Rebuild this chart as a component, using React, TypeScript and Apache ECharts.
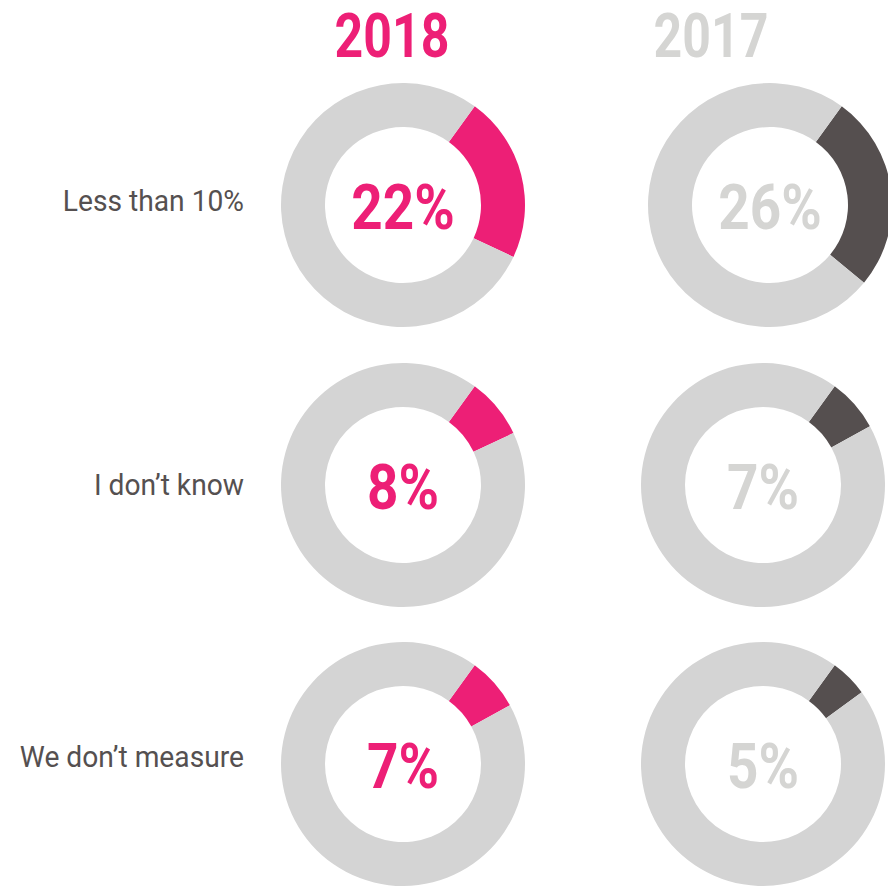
import React, { useEffect, useRef } from "react";
import * as echarts from "echarts";

// Survey answers, one row per category
const categories = ["Less than 10%", "I don’t know", "We don’t measure"];
const years = ["2018", "2017"];
const values2018 = [22, 8, 7];
const values2017 = [26, 7, 5];

const PINK = "#ED1F76";
const DARK = "#554F4F";
const RING = "#D4D4D4";
const PALE_TEXT = "#D5D5D3";
const LABEL = "#555050";

// Donut centres per column, one entry per row
const colX = [
  [403, 403, 403],
  [770, 763, 763],
];
const rowY = [205, 485, 764];
const R_IN = 78;
const R_OUT = 122;
const CONDENSED = 0.87;

export default function App() {
  const ref = useRef<HTMLDivElement>(null);

  useEffect(() => {
    document.body.style.margin = "0";
    const chart = echarts.init(ref.current!, null, { renderer: "svg" });

    const columns = [
      { values: values2018, color: PINK, textColor: PINK },
      { values: values2017, color: DARK, textColor: PALE_TEXT },
    ];

    const series: any[] = [];
    const graphics: any[] = [];

    columns.forEach((col, c) => {
      col.values.forEach((v, r) => {
        const cx = colX[c][r];
        series.push({
          type: "pie",
          center: [cx, rowY[r]],
          radius: [R_IN, R_OUT],
          startAngle: 54,
          clockwise: true,
          silent: true,
          avoidLabelOverlap: false,
          label: { show: false },
          labelLine: { show: false },
          emphasis: { disabled: true },
          itemStyle: { borderWidth: 0 },
          data: [
            { value: v, itemStyle: { color: col.color } },
            { value: 100 - v, itemStyle: { color: RING } },
          ],
        });
        graphics.push({
          type: "text",
          x: cx,
          y: rowY[r] + 2,
          scaleX: CONDENSED,
          style: {
            text: `${v}%`,
            fill: col.textColor,
            font: "bold 63px Roboto",
            lineHeight: 56,
            textAlign: "center",
            textVerticalAlign: "middle",
          },
        });
      });
    });

    // Year headings
    const titleX = [392, 711];
    const titleColors = [PINK, PALE_TEXT];
    years.forEach((y, c) => {
      graphics.push({
        type: "text",
        x: titleX[c],
        y: 36.5,
        scaleX: 0.82,
        style: {
          text: y,
          fill: titleColors[c],
          font: "bold 61px Roboto",
          lineHeight: 52,
          textAlign: "center",
          textVerticalAlign: "middle",
        },
      });
    });

    // Row labels
    const labelY = [201, 485, 757];
    categories.forEach((name, r) => {
      graphics.push({
        type: "text",
        x: 244,
        y: labelY[r],
        scaleX: 0.94,
        style: {
          text: name,
          fill: LABEL,
          font: "30px Roboto",
          textAlign: "right",
          textVerticalAlign: "middle",
        },
      });
    });

    chart.setOption({
      animation: false,
      backgroundColor: "#ffffff",
      series,
      graphic: graphics,
    });

    return () => chart.dispose();
  }, []);

  return <div ref={ref} style={{ width: 888, height: 891 }} />;
}
